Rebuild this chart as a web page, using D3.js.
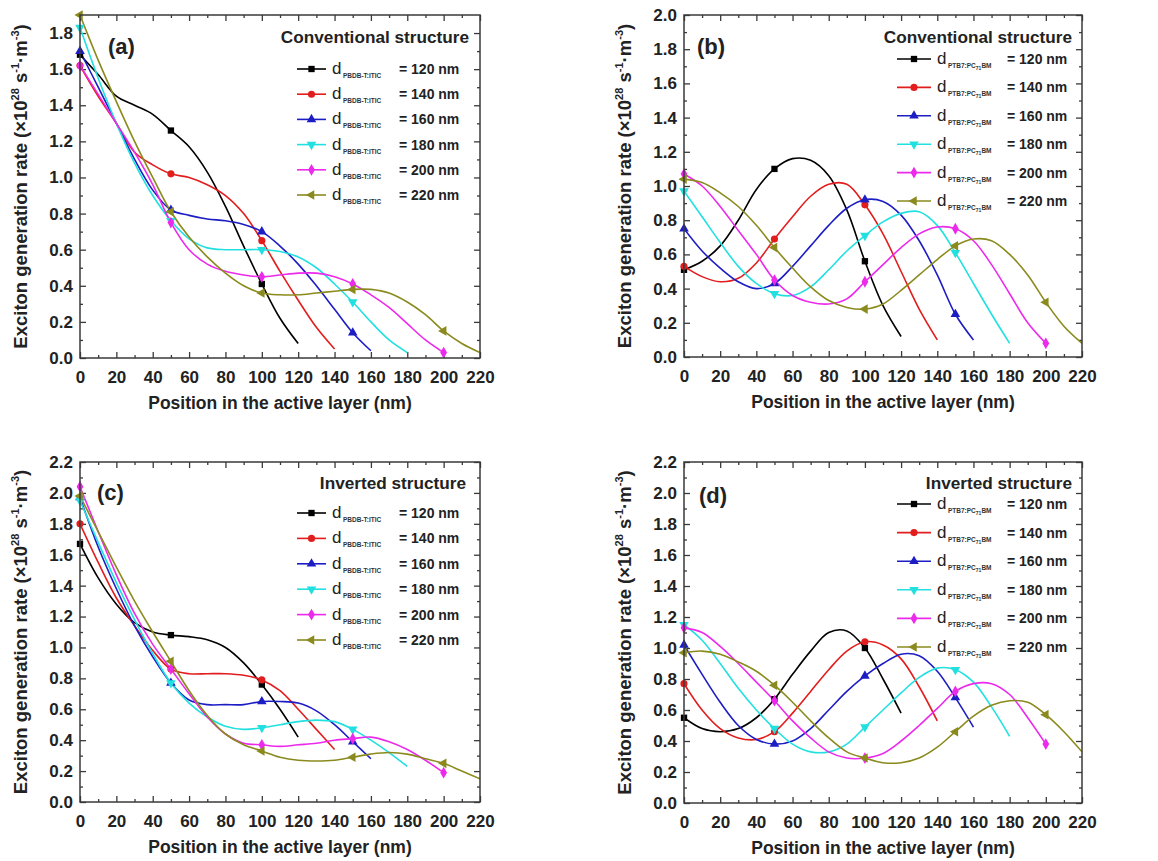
<!DOCTYPE html>
<html>
<head>
<meta charset="utf-8">
<script src="https://cdn.jsdelivr.net/npm/d3@7"></script>
<style>
body { margin: 0; background: #fff; }
svg text { font-family: "Liberation Sans", Arial, sans-serif; }
</style>
</head>
<body>
<script>
// ---- data (exciton generation rate, x10^28 s^-1 m^-3) ----
const thickness = [120, 140, 160, 180, 200, 220];
const positions = [0, 10, 20, 30, 40, 50, 60, 70, 80, 90, 100, 110, 120, 130, 140, 150, 160, 170, 180, 190, 200, 210, 220];
const markerPositions = [0, 50, 100, 150, 200];
const xTickValues = [0, 20, 40, 60, 80, 100, 120, 140, 160, 180, 200, 220];
const xMinorValues = [10, 30, 50, 70, 90, 110, 130, 150, 170, 190, 210];
const yTicksA = [0, 0.2, 0.4, 0.6, 0.8, 1.0, 1.2, 1.4, 1.6, 1.8];
const yTicksB = [0, 0.2, 0.4, 0.6, 0.8, 1.0, 1.2, 1.4, 1.6, 1.8, 2.0];
const yTicksCD = [0, 0.2, 0.4, 0.6, 0.8, 1.0, 1.2, 1.4, 1.6, 1.8, 2.0, 2.2];

// (a) PBDB-T:ITIC, conventional
const a120 = [1.68, 1.57, 1.45, 1.40, 1.35, 1.26, 1.17, 1.03, 0.84, 0.62, 0.41, 0.22, 0.08];
const a140 = [1.62, 1.45, 1.30, 1.14, 1.07, 1.02, 1.00, 0.96, 0.90, 0.80, 0.65, 0.48, 0.32, 0.17, 0.05];
const a160 = [1.70, 1.50, 1.30, 1.10, 0.93, 0.82, 0.79, 0.77, 0.76, 0.74, 0.70, 0.62, 0.52, 0.40, 0.27, 0.14, 0.04];
const a180 = [1.83, 1.55, 1.30, 1.08, 0.90, 0.76, 0.66, 0.61, 0.60, 0.60, 0.60, 0.59, 0.56, 0.50, 0.41, 0.31, 0.20, 0.10, 0.03];
const a200 = [1.62, 1.46, 1.30, 1.14, 0.96, 0.75, 0.60, 0.52, 0.48, 0.46, 0.45, 0.46, 0.47, 0.47, 0.45, 0.41, 0.35, 0.28, 0.19, 0.10, 0.03];
const a220 = [1.90, 1.65, 1.42, 1.20, 1.00, 0.81, 0.67, 0.56, 0.47, 0.40, 0.36, 0.35, 0.35, 0.36, 0.37, 0.38, 0.38, 0.36, 0.31, 0.24, 0.15, 0.08, 0.03];

// (b) PTB7:PC71BM, conventional
const b120 = [0.51, 0.56, 0.65, 0.80, 0.98, 1.10, 1.16, 1.15, 1.06, 0.86, 0.56, 0.30, 0.12];
const b140 = [0.53, 0.47, 0.44, 0.46, 0.55, 0.69, 0.82, 0.94, 1.01, 1.01, 0.89, 0.72, 0.50, 0.28, 0.10];
const b160 = [0.75, 0.62, 0.52, 0.44, 0.40, 0.43, 0.53, 0.65, 0.77, 0.87, 0.92, 0.91, 0.83, 0.68, 0.48, 0.25, 0.10];
const b180 = [0.97, 0.82, 0.67, 0.53, 0.43, 0.37, 0.36, 0.41, 0.51, 0.62, 0.71, 0.79, 0.84, 0.85, 0.77, 0.61, 0.43, 0.25, 0.08];
const b200 = [1.07, 1.00, 0.88, 0.74, 0.60, 0.45, 0.36, 0.32, 0.31, 0.34, 0.44, 0.54, 0.64, 0.72, 0.76, 0.75, 0.68, 0.54, 0.37, 0.20, 0.08];
const b220 = [1.04, 1.02, 0.96, 0.88, 0.77, 0.64, 0.52, 0.41, 0.33, 0.29, 0.28, 0.31, 0.39, 0.48, 0.57, 0.65, 0.69, 0.68, 0.60, 0.48, 0.32, 0.18, 0.08];

// (c) PBDB-T:ITIC, inverted
const c120 = [1.67, 1.45, 1.28, 1.16, 1.10, 1.08, 1.07, 1.05, 1.00, 0.90, 0.76, 0.60, 0.42];
const c140 = [1.80, 1.55, 1.32, 1.14, 0.98, 0.86, 0.83, 0.83, 0.83, 0.82, 0.79, 0.72, 0.60, 0.47, 0.34];
const c160 = [1.97, 1.65, 1.38, 1.14, 0.94, 0.77, 0.66, 0.63, 0.63, 0.63, 0.65, 0.65, 0.64, 0.59, 0.50, 0.39, 0.28];
const c180 = [1.95, 1.68, 1.42, 1.18, 0.96, 0.77, 0.64, 0.55, 0.49, 0.47, 0.48, 0.50, 0.52, 0.53, 0.52, 0.47, 0.40, 0.32, 0.23];
const c200 = [2.04, 1.75, 1.47, 1.22, 1.02, 0.86, 0.70, 0.55, 0.44, 0.38, 0.37, 0.36, 0.37, 0.38, 0.40, 0.41, 0.42, 0.39, 0.34, 0.27, 0.19];
const c220 = [1.98, 1.75, 1.52, 1.30, 1.10, 0.91, 0.72, 0.56, 0.44, 0.37, 0.33, 0.29, 0.27, 0.265, 0.27, 0.29, 0.31, 0.32, 0.31, 0.28, 0.25, 0.20, 0.15];

// (d) PTB7:PC71BM, inverted
const d120 = [0.55, 0.48, 0.46, 0.48, 0.55, 0.67, 0.83, 0.98, 1.10, 1.11, 1.00, 0.80, 0.58];
const d140 = [0.77, 0.60, 0.48, 0.42, 0.41, 0.46, 0.58, 0.72, 0.86, 0.98, 1.04, 1.02, 0.93, 0.75, 0.53];
const d160 = [1.02, 0.83, 0.65, 0.50, 0.41, 0.38, 0.40, 0.48, 0.60, 0.72, 0.82, 0.90, 0.96, 0.95, 0.85, 0.68, 0.49];
const d180 = [1.15, 1.05, 0.90, 0.74, 0.60, 0.48, 0.38, 0.33, 0.33, 0.38, 0.49, 0.60, 0.71, 0.81, 0.87, 0.86, 0.78, 0.62, 0.43];
const d200 = [1.13, 1.10, 1.01, 0.90, 0.78, 0.66, 0.53, 0.42, 0.33, 0.29, 0.29, 0.32, 0.40, 0.50, 0.61, 0.72, 0.77, 0.77, 0.70, 0.55, 0.38];
const d220 = [0.97, 0.98, 0.96, 0.91, 0.85, 0.76, 0.65, 0.53, 0.42, 0.33, 0.29, 0.26, 0.26, 0.29, 0.36, 0.46, 0.56, 0.63, 0.66, 0.65, 0.57, 0.46, 0.33];

// ---- styles ----
const seriesColors = ['#000000', '#e21d1d', '#1d1dc4', '#22e0e0', '#ec2aec', '#8a8a1e'];
const frameColor = '#3a3a3a';

const seriesSymbols = [
    { type: d3.symbolSquare, size: 40, rot: 0 },
    { type: d3.symbolCircle, size: 40, rot: 0 },
    { type: d3.symbolTriangle, size: 40, rot: 0 },
    { type: d3.symbolTriangle, size: 40, rot: 180 },
    { type: d3.symbolDiamond, size: 40, rot: 0 },
    { type: d3.symbolTriangle, size: 40, rot: -90 }
];

let svg = d3.select('body').append('svg').attr('width', 1158).attr('height', 861);

//---------------------------------------------------------------------------------------------------//

let panels = [
    { label: '(a)', title: 'Conventional structure', material: 'PBDB', series: [a120, a140, a160, a180, a200, a220],
      yMax: 1.9, yTicks: yTicksA, left: 80, right: 480, top: 15, bottom: 358,
      labelPos: [108, 54], titlePos: [469, 43], legend: { lineX: 297, dX: 332, eqX: 399, y: 69, dy: 25.2 } },
    { label: '(b)', title: 'Conventional structure', material: 'PTB7', series: [b120, b140, b160, b180, b200, b220],
      yMax: 2.0, yTicks: yTicksB, left: 684, right: 1082, top: 15, bottom: 357,
      labelPos: [697, 54], titlePos: [1072, 43], legend: { lineX: 897, dX: 937, eqX: 1007, y: 59, dy: 28.4 } },
    { label: '(c)', title: 'Inverted structure', material: 'PBDB', series: [c120, c140, c160, c180, c200, c220],
      yMax: 2.2, yTicks: yTicksCD, left: 80, right: 480, top: 462, bottom: 802,
      labelPos: [97, 500], titlePos: [466, 489], legend: { lineX: 297, dX: 332, eqX: 399, y: 513, dy: 25.4 } },
    { label: '(d)', title: 'Inverted structure', material: 'PTB7', series: [d120, d140, d160, d180, d200, d220],
      yMax: 2.2, yTicks: yTicksCD, left: 684, right: 1082, top: 462, bottom: 803,
      labelPos: [699, 503], titlePos: [1072, 489], legend: { lineX: 897, dX: 937, eqX: 1007, y: 504, dy: 28.6 } }
];

function minorOf(ticks) {
    return ticks.slice(0, -1).map(t => +(t + 0.1).toFixed(2));
}

function addSubscript(text, material) {
    if (material === 'PBDB') {
        text.append('tspan').text('PBDB-T:ITIC');
    } else {
        text.append('tspan').text('PTB7:PC');
        text.append('tspan').attr('font-size', 5).attr('dy', 2).text('71');
        text.append('tspan').attr('dy', -2).text('BM');
    }
}

function drawPanel(p, pi) {
    let x = d3.scaleLinear().domain([0, 220]).range([p.left, p.right]);
    let y = d3.scaleLinear().domain([0, p.yMax]).range([p.bottom, p.top]);
    let g = svg.append('g');

    // axes: all ticks point inward, mirrored on top/right
    let bottomAxis = d3.axisBottom(x).tickValues(xTickValues).tickSizeInner(-6).tickSizeOuter(0).tickPadding(13);
    let bottomMinor = d3.axisBottom(x).tickValues(xMinorValues).tickSizeInner(-3).tickSizeOuter(0).tickFormat('');
    let topAxis = d3.axisBottom(x).tickValues(xTickValues).tickSizeInner(6).tickSizeOuter(0).tickFormat('');
    let topMinor = d3.axisBottom(x).tickValues(xMinorValues).tickSizeInner(3).tickSizeOuter(0).tickFormat('');
    let leftAxis = d3.axisLeft(y).tickValues(p.yTicks).tickSizeInner(-6).tickSizeOuter(0).tickPadding(7).tickFormat(d3.format('.1f'));
    let leftMinor = d3.axisLeft(y).tickValues(minorOf(p.yTicks)).tickSizeInner(-3).tickSizeOuter(0).tickFormat('');
    let rightAxis = d3.axisLeft(y).tickValues(p.yTicks).tickSizeInner(6).tickSizeOuter(0).tickFormat('');
    let rightMinor = d3.axisLeft(y).tickValues(minorOf(p.yTicks)).tickSizeInner(3).tickSizeOuter(0).tickFormat('');

    [[bottomAxis, 0, p.bottom], [bottomMinor, 0, p.bottom], [topAxis, 0, p.top], [topMinor, 0, p.top],
     [leftAxis, p.left, 0], [leftMinor, p.left, 0], [rightAxis, p.right, 0], [rightMinor, p.right, 0]]
        .forEach(([axis, tx, ty]) => {
            let ag = g.append('g').attr('transform', `translate(${tx},${ty})`).call(axis);
            ag.select('.domain').remove();
            ag.selectAll('line').attr('stroke', frameColor).attr('stroke-width', 1.3);
            ag.selectAll('text').attr('font-size', 17).attr('font-weight', 'bold').attr('fill', '#222')
                .attr('font-family', '"Liberation Sans", Arial, sans-serif');
        });

    let clipId = 'clip' + pi;
    g.append('clipPath').attr('id', clipId).append('rect')
        .attr('x', p.left).attr('y', p.top).attr('width', p.right - p.left).attr('height', p.bottom - p.top);

    let lineFunction = d3.line()
        .x(d => x(d[0]))
        .y(d => y(d[1]))
        .curve(d3.curveCatmullRom.alpha(0.5));

    let plot = g.append('g').attr('clip-path', `url(#${clipId})`);
    p.series.forEach((vals, i) => {
        let pts = vals.map((v, k) => [positions[k], v]);
        plot.append('path')
            .attr('d', lineFunction(pts))
            .attr('fill', 'none')
            .attr('stroke', seriesColors[i])
            .attr('stroke-width', 1.6);
    });
    p.series.forEach((vals, i) => {
        let sym = seriesSymbols[i];
        let marks = markerPositions.filter(m => m <= thickness[i]);
        g.selectAll(null).data(marks).enter().append('path')
            .attr('d', d3.symbol().type(sym.type).size(sym.size))
            .attr('transform', m => `translate(${x(m)},${y(vals[positions.indexOf(m)])}) rotate(${sym.rot})`)
            .attr('fill', seriesColors[i]);
    });

    // frame
    g.append('rect')
        .attr('x', p.left).attr('y', p.top)
        .attr('width', p.right - p.left).attr('height', p.bottom - p.top)
        .attr('fill', 'none').attr('stroke', frameColor).attr('stroke-width', 1.5);

    // axis titles
    g.append('text')
        .attr('x', (p.left + p.right) / 2).attr('y', p.bottom + 51)
        .attr('text-anchor', 'middle').attr('font-size', 17.5).attr('font-weight', 'bold').attr('fill', '#222')
        .text('Position in the active layer (nm)');

    let yt = g.append('text')
        .attr('transform', `translate(${p.left - 53},${(p.top + p.bottom) / 2}) rotate(-90)`)
        .attr('text-anchor', 'middle').attr('font-size', 18.5).attr('font-weight', 'bold').attr('fill', '#222');
    yt.append('tspan').text('Exciton generation rate (×10');
    yt.append('tspan').attr('font-size', 11).attr('dy', -8).text('28');
    yt.append('tspan').attr('dy', 8).text(' s');
    yt.append('tspan').attr('font-size', 11).attr('dy', -8).text('-1');
    yt.append('tspan').attr('dy', 8).text('·m');
    yt.append('tspan').attr('font-size', 11).attr('dy', -8).text('-3');
    yt.append('tspan').attr('dy', 8).text(')');

    // panel label and legend
    g.append('text').attr('x', p.labelPos[0]).attr('y', p.labelPos[1])
        .attr('font-size', 22).attr('font-weight', 'bold').attr('fill', '#222').text(p.label);
    g.append('text').attr('x', p.titlePos[0]).attr('y', p.titlePos[1])
        .attr('text-anchor', 'end').attr('font-size', 17.2).attr('font-weight', 'bold').attr('fill', '#222').text(p.title);

    let lg = p.legend;
    thickness.forEach((t, i) => {
        let ry = lg.y + i * lg.dy;
        let lineLen = lg.dX - lg.lineX - 6;
        g.append('line')
            .attr('x1', lg.lineX).attr('x2', lg.lineX + lineLen).attr('y1', ry).attr('y2', ry)
            .attr('stroke', seriesColors[i]).attr('stroke-width', 1.6);
        g.append('path')
            .attr('d', d3.symbol().type(seriesSymbols[i].type).size(seriesSymbols[i].size))
            .attr('transform', `translate(${lg.lineX + lineLen / 2},${ry}) rotate(${seriesSymbols[i].rot})`)
            .attr('fill', seriesColors[i]);
        g.append('text').attr('x', lg.dX).attr('y', ry + 5)
            .attr('font-size', 17).attr('fill', '#222').text('d');
        let sub = g.append('text').attr('x', lg.dX + 11).attr('y', ry + 9)
            .attr('font-size', 6.5).attr('font-weight', 'bold').attr('fill', '#333');
        addSubscript(sub, p.material);
        g.append('text').attr('x', lg.eqX).attr('y', ry + 5)
            .attr('font-size', 14).attr('font-weight', 'bold').attr('fill', '#222').text('= ' + t + ' nm');
    });
}

panels.forEach(drawPanel);
</script>
</body>
</html>
